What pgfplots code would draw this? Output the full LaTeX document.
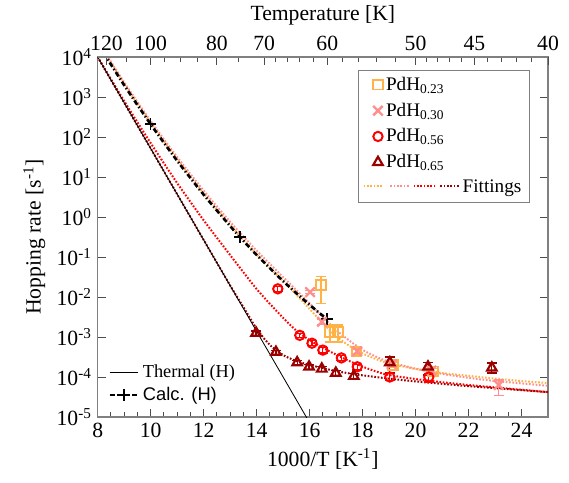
\documentclass[border=0pt]{standalone}
\usepackage{fontspec}
\setmainfont{Liberation Serif}
\newfontfamily\sansfont{Liberation Sans}
\usepackage{pgfplots}
\pgfplotsset{compat=1.18}
\definecolor{corA}{HTML}{FFB347}
\definecolor{corB}{HTML}{FF8F8F}
\definecolor{corC}{HTML}{FF0000}
\definecolor{corD}{HTML}{9A0000}
\definecolor{eixo}{HTML}{808080}

% trecho pontilhado para a legenda "Fittings"
\newcommand\ptos[1]{\textcolor{#1}{\leaders\hbox to 2pt{\hss\rule[0.3em]{1pt}{1.2pt}\hss}\hskip 14pt}}

\pgfplotsset{
  fit/.style={line width=1.2pt, dash pattern=on 1pt off 1pt, smooth},
  barras/.style={error bars/.cd, y dir=both, y explicit,
    error bar style={line width=0.7pt, solid},
    error mark options={rotate=90, mark size=3pt, line width=0.7pt}},
}

\begin{document}
\begin{tikzpicture}
\begin{axis}[name=main, scale only axis, width=270.2pt, height=216pt,
  xmin=8, xmax=25, ymode=log, ymin=1e-5, ymax=1e4,
  xtick={8,10,...,24}, minor x tick num=3, xtick pos=bottom,
  ytick={1e-5,1e-4,1e-3,1e-2,1e-1,1,1e1,1e2,1e3,1e4},
  yticklabels={10\textsuperscript{-5},10\textsuperscript{-4},10\textsuperscript{-3},10\textsuperscript{-2},10\textsuperscript{-1},10\textsuperscript{0},10\textsuperscript{1},10\textsuperscript{2},10\textsuperscript{3},10\textsuperscript{4}},
  yminorticks=false, ytick pos=both,
  tick align=inside, major tick length=5pt, minor tick length=3pt,
  axis line style={eixo, line width=0.8pt}, tick style={black!70, line width=0.6pt},
  ticklabel style={font=\fontsize{13}{15}\selectfont},
  /pgf/number format/assume math mode=true,
  xlabel={1000/T [K\textsuperscript{-1}]}, ylabel={Hopping rate [s\textsuperscript{-1}]},
  label style={font=\fontsize{13}{15}\selectfont},
  legend cell align=left,
  legend style={at={(0.96,0.964)}, anchor=north east, draw=eixo, fill=white,
    font=\fontsize{11.5}{13.5}\selectfont, row sep=2pt},
]
% ajustes
\addplot[forget plot, fit, corA] coordinates {(8,2.34e4) (9,2.14e3) (10,224) (11,27.5) (12,3.89) (13,0.631) (14,0.117) (15,0.0251) (15.5,0.0115) (16,5.01e-3) (16.5,2.24e-3) (17,1.047e-3) (17.5,6.03e-4) (18,3.89e-4) (18.5,2.82e-4) (19,2.19e-4) (20,1.585e-4) (21,1.26e-4) (22,1.07e-4) (23,9.12e-5) (24,7.94e-5) (25,7.08e-5)};
\addplot[forget plot, fit, corB] coordinates {(8,2.51e4) (9,2.34e3) (10,251) (11,31.6) (12,4.57) (13,0.759) (14,0.1445) (15,0.0316) (15.5,0.0148) (16,6.92e-3) (16.5,3.16e-3) (17,1.51e-3) (17.5,8.13e-4) (18,4.79e-4) (18.5,3.24e-4) (19,2.40e-4) (20,1.62e-4) (21,1.20e-4) (22,9.55e-5) (23,7.94e-5) (24,6.92e-5) (25,6.03e-5)};
\addplot[forget plot, fit, corC] coordinates {(8,1e4) (9,794) (10,70.8) (11,7.08) (12,0.832) (13,0.112) (13.5,0.0417) (14,0.01585) (14.5,6.76e-3) (15,3.02e-3) (15.5,1.445e-3) (16,8.32e-4) (16.5,5.37e-4) (17,3.63e-4) (17.5,2.51e-4) (18,1.82e-4) (18.5,1.38e-4) (19,1.12e-4) (20,8.91e-5) (21,7.41e-5) (22,6.31e-5) (23,5.50e-5) (24,4.79e-5) (25,4.22e-5)};
\addplot[forget plot, fit, corD] coordinates {(8,1e4) (10,51.8) (12,0.268) (13,0.0195) (13.5,5.62e-3) (14,1.62e-3) (14.5,6.31e-4) (15,3.55e-4) (15.5,2.51e-4) (16,2.0e-4) (16.5,1.66e-4) (17,1.41e-4) (17.5,1.23e-4) (18,1.10e-4) (19,9.12e-5) (20,7.76e-5) (21,6.76e-5) (22,5.89e-5) (23,5.25e-5) (24,4.68e-5) (25,4.17e-5)};
% termico e calculo
\addplot[forget plot, black, line width=0.5pt] coordinates {(8,1e4) (16,7.2e-6)};
\addplot[forget plot, black, line width=1.6pt, dash pattern=on 3pt off 1.5pt on 0.8pt off 1.5pt, smooth,
  mark=+, mark indices={2,6,10}, mark size=3.5pt, mark options={solid, line width=0.9pt}]
  coordinates {(8,2.19e4) (9,1.98e3) (10,209) (11,25.6) (12,3.63) (13,0.596) (13.37,0.316) (14,0.113) (15,0.025) (16,6.37e-3) (16.65,2.82e-3)};
% medidas
\addplot[only marks, corA, mark=square, mark size=2.8pt, mark options={line width=1.1pt, solid}, barras]
  table[x=x, y=y, y error plus=ep, y error minus=em] {
x y ep em
16.43 0.020 0.013 0.013
16.77 1.33e-3 6.7e-4 5.8e-4
17.07 1.33e-3 6.7e-4 5.8e-4
17.78 4.3e-4 0.7e-4 0.7e-4
19.15 2.0e-4 0.35e-4 0.3e-4
20.66 1.4e-4 0.25e-4 0.2e-4
};
\addlegendentry{PdH\textsubscript{0.23}}
\addplot[only marks, corB, mark=x, mark size=4pt, mark options={line width=1.4pt, solid}, barras]
  table[x=x, y=y, y error plus=ep, y error minus=em] {
x y ep em
16.02 0.0133 0.0013 0.0013
16.47 2.4e-3 0.3e-3 0.3e-3
17.8 4.4e-4 0.5e-4 0.5e-4
19.1 2.1e-4 0.3e-4 0.3e-4
20.6 1.45e-4 0.2e-4 0.2e-4
23.14 6.3e-5 2.1e-5 2.8e-5
};
\addlegendentry{PdH\textsubscript{0.30}}
\addplot[only marks, corC, mark=o, mark size=2.8pt, mark options={line width=1.2pt, solid}, barras]
  table[x=x, y=y, y error plus=ep, y error minus=em] {
x y ep em
14.8 0.016 0.002 0.002
15.63 1.1e-3 1.5e-4 1.5e-4
16.09 7.0e-4 1e-4 1e-4
16.5 4.7e-4 0.7e-4 0.7e-4
17.2 3.0e-4 0.45e-4 0.45e-4
17.8 1.8e-4 0.3e-4 0.3e-4
19.03 1.0e-4 0.2e-4 0.2e-4
20.5 1.0e-4 0.25e-4 0.25e-4
};
\addlegendentry{PdH\textsubscript{0.56}}
\addplot[only marks, corD, mark=triangle, mark size=3.3pt, mark options={line width=1.3pt, solid}, barras]
  table[x=x, y=y, y error plus=ep, y error minus=em] {
x y ep em
13.98 1.26e-3 1.5e-4 1.5e-4
14.73 4.2e-4 0.5e-4 0.5e-4
15.53 2.3e-4 0.3e-4 0.3e-4
15.98 1.8e-4 0.25e-4 0.25e-4
16.46 1.6e-4 0.2e-4 0.2e-4
16.99 1.26e-4 0.2e-4 0.2e-4
17.67 1.05e-4 0.15e-4 0.15e-4
19.03 2.3e-4 0.85e-4 1.0e-4
20.47 1.8e-4 0.55e-4 0.68e-4
22.88 1.7e-4 0.54e-4 0.44e-4
};
\addlegendentry{PdH\textsubscript{0.65}}
\addlegendimage{empty legend}
\addlegendentry{\hspace*{-15pt}\ptos{corA}\hspace{1.5pt}\ptos{corB}\hspace{1.5pt}\ptos{corC}\hspace{1.5pt}\ptos{corD}\hspace{0.5pt}Fittings}
\end{axis}
\begin{axis}[scale only axis, width=270.2pt, height=216pt,
  xmin=8, xmax=25, ymode=log, ymin=1e-5, ymax=1e4,
  axis x line*=top, axis y line=none,
  axis line style={eixo, line width=0.8pt}, tick style={black!70, line width=0.6pt},
  tick align=inside, major tick length=5pt, minor tick length=3pt,
  xtick={8.3333,10,12.5,14.2857,16.6667,20,22.2222,25},
  xticklabels={120,100,80,70,60,50,45,40},
  minor xtick={9.0909,10.5263,11.1111,11.7647,13.3333,14.7059,15.1515,15.625,16.129,17.2414,17.8571,18.5185,19.2308,20.4082,20.8333,21.2766,21.7391,22.7273,23.2558,23.8095,24.3902},
  ticklabel style={font=\fontsize{13}{15}\selectfont},
  xlabel={Temperature [K]}, label style={font=\fontsize{13}{15}\selectfont},
  legend cell align=left,
  legend style={at={(0.012,0.02)}, anchor=south west, draw=none, fill=none,
    font=\fontsize{11}{13}\selectfont, row sep=0pt},
]
\addlegendimage{black, line width=0.5pt}
\addlegendentry{Thermal (H)}
\addlegendimage{black, line width=1.6pt, dash pattern=on 3pt off 1.5pt on 0.8pt off 1.5pt,
  mark=+, mark size=3.5pt, mark options={solid, line width=0.9pt}}
\addlegendentry{{\sansfont Calc. (H)}}
\end{axis}
\pgfresetboundingbox
\path ([xshift=-58.6pt,yshift=-39pt]main.south west) rectangle ([xshift=12.6pt,yshift=34.2pt]main.north east);
\end{tikzpicture}
\end{document}
